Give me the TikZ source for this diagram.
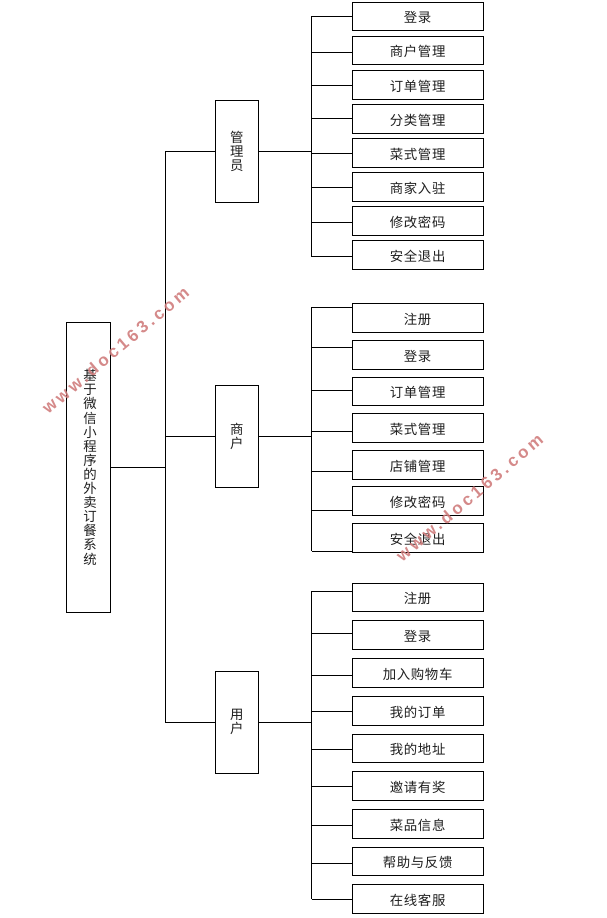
\documentclass[tikz,border=0pt]{standalone}
\usepackage{fontspec}
\setmainfont[LetterSpace=5]{Noto Sans CJK SC}
\newfontfamily\markfont[LetterSpace=20]{Liberation Sans Bold}
\definecolor{markred}{RGB}{208,125,125}
\newcommand{\leafbox}[5]{%
  \node[leaf,minimum height={(#3-#2)*1pt}] (#1) at (417.6,{(#2+#3)/2}) {\raisebox{-6.2pt}[0pt][0pt]{#5}};
  \coordinate (#1c) at (352.3,#4);
}
\newcommand{\leafwire}[2]{\draw[wire] (#1 |- #2c) -- (#2c);}
\tikzset{
  wire/.style={line width=1pt,black},
  labeltext/.style={text=black!88,align=center,inner sep=0pt,font=\fontsize{13.4}{14.1}\selectfont},
  basebox/.style={draw=black,line width=1pt,fill=white,inner sep=0pt,outer sep=0pt,labeltext},
  leaf/.style={basebox,minimum width=131pt},
  group/.style={basebox,minimum width=43pt,minimum height=102pt},
  rootbox/.style={basebox,minimum width=44pt,minimum height=290pt},
  stamp/.style={rotate=40.3,text=markred,opacity=.9,inner sep=0pt,font=\markfont\fontsize{17}{17}\selectfont}
}
\begin{document}
\begin{tikzpicture}[x=1pt,y=-1pt]
\useasboundingbox (0,0) rectangle (607,918);
\coordinate (busT) at (165.4,0);
\coordinate (busA) at (311.6,0);
% root and groups
\node[rootbox] (root) at (88.3,467.3) {};
\node[labeltext] (roottitle) at (90,467.3) {基\\于\\微\\信\\小\\程\\序\\的\\外\\卖\\订\\餐\\系\\统};
\node[group] (adm) at (236.8,151.3) {管\\理\\员};
\node[group] (mer) at (236.8,436.3) {商\\户};
\node[group] (usr) at (236.8,722.3) {用\\户};
% admin leaves
\leafbox{a1}{2.3}{30.3}{16}{登录}
\leafbox{a2}{36.3}{64.3}{52.3}{商户管理}
\leafbox{a3}{70.3}{99.3}{85.3}{订单管理}
\leafbox{a4}{104.3}{133.3}{118.3}{分类管理}
\leafbox{a5}{138.3}{167.3}{153.3}{菜式管理}
\leafbox{a6}{172.3}{201.3}{187.3}{商家入驻}
\leafbox{a7}{206.3}{235.3}{222.3}{修改密码}
\leafbox{a8}{240.3}{269.3}{256.7}{安全退出}
% merchant leaves
\leafbox{m1}{303.3}{332.3}{307.3}{注册}
\leafbox{m2}{340.5}{369.3}{347}{登录}
\leafbox{m3}{377.3}{405.5}{390.3}{订单管理}
\leafbox{m4}{413.3}{442.3}{431.5}{菜式管理}
\leafbox{m5}{450.3}{479.3}{471.5}{店铺管理}
\leafbox{m6}{486.3}{515.5}{510.3}{修改密码}
\leafbox{m7}{523.3}{552.3}{551.3}{安全退出}
% user leaves
\leafbox{u1}{583.3}{611.3}{591.3}{注册}
\leafbox{u2}{620.3}{649.3}{633.3}{登录}
\leafbox{u3}{658.3}{687.3}{675.3}{加入购物车}
\leafbox{u4}{696.3}{725.3}{711.3}{我的订单}
\leafbox{u5}{734.3}{762.3}{749.3}{我的地址}
\leafbox{u6}{771.3}{800.3}{786.3}{邀请有奖}
\leafbox{u7}{809.3}{838.3}{825.3}{菜品信息}
\leafbox{u8}{847.3}{875.3}{863.3}{帮助与反馈}
\leafbox{u9}{884.3}{913.3}{899.3}{在线客服}
% trunk
\draw[wire] (busT |- adm.west) -- (busT |- usr.west);
\draw[wire] (root.east) -- (busT |- root.east);
\draw[wire] (busT |- adm.west) -- (adm.west);
\draw[wire] (busT |- mer.west) -- (mer.west);
\draw[wire] (busT |- usr.west) -- (usr.west);
% branches
\draw[wire] (adm.east) -- (busA |- adm.east);
\draw[wire] (mer.east) -- (busA |- mer.east);
\draw[wire] (usr.east) -- (busA |- usr.east);
\draw[wire] (busA |- a1c) -- (busA |- a8c);
\draw[wire] (busA |- m1c) -- (busA |- m7c);
\draw[wire] (busA |- u1c) -- (busA |- u9c);
\foreach \n in {a1,a2,a3,a4,a5,a6,a7,a8,m1,m2,m3,m4,m5,m6,m7,u1,u2,u3,u4,u5,u6,u7,u8,u9}{\leafwire{busA}{\n}}
% watermarks
\node[stamp] (mark1) at (115.5,350) {www.doc163.com};
\node[stamp] (mark2) at (469.5,497.5) {www.doc163.com};
\end{tikzpicture}
\end{document}
